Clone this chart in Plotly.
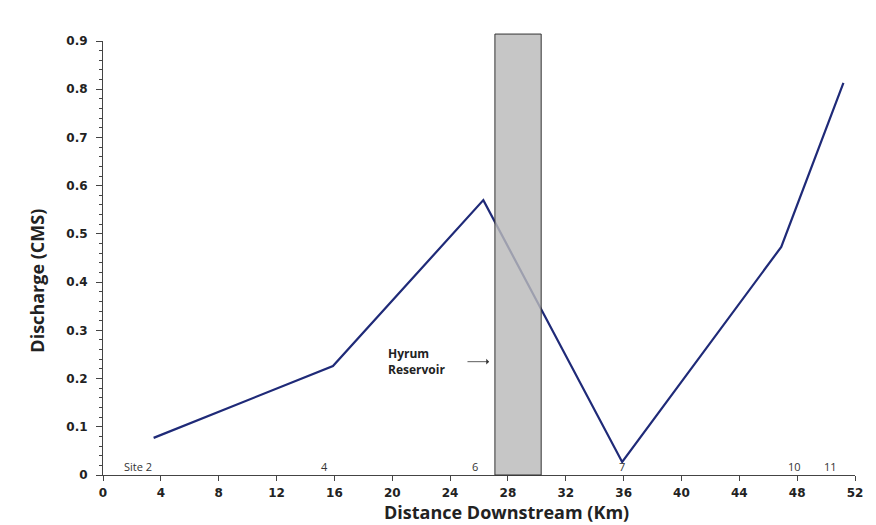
import plotly.graph_objects as go

# Data
sites = ["Site 2", "4", "6", "7", "10", "11"]
distance_km = [3.5, 15.9, 26.3, 35.9, 46.9, 51.2]
discharge_cms = [0.077, 0.226, 0.570, 0.027, 0.473, 0.813]
site_label_x = [2.4, 15.3, 25.7, 35.9, 47.8, 50.3]

reservoir_x = [27.1, 30.3]
x_ticks = list(range(0, 53, 4))
y_ticks = [0, 0.1, 0.2, 0.3, 0.4, 0.5, 0.6, 0.7, 0.8, 0.9]

fig = go.Figure()
fig.add_trace(go.Scatter(
    x=distance_km, y=discharge_cms, mode="lines",
    line=dict(color="#1f2a78", width=2.2), showlegend=False, hoverinfo="x+y"))

# site labels just above the x axis
for s, x in zip(sites, site_label_x):
    fig.add_annotation(x=x, y=0.018, text=s, showarrow=False,
                       font=dict(family="Open Sans", size=11, color="#333"),
                       xanchor="center", yanchor="middle")

# reservoir rectangle
fig.add_shape(type="rect", xref="x", yref="paper",
              x0=reservoir_x[0], x1=reservoir_x[1], y0=0, y1=1.016,
              fillcolor="rgba(185,185,185,0.82)", line=dict(color="#333", width=1),
              layer="above")

fig.add_annotation(x=19.6, y=0.235, text="<b>Hyrum<br>Reservoir</b>", showarrow=False,
                   align="left", xanchor="left", yanchor="middle",
                   font=dict(family="Open Sans", size=12, color="#222"))
fig.add_annotation(x=26.7, y=0.235, ax=25.1, ay=0.235, xref="x", yref="y",
                   axref="x", ayref="y", text="", showarrow=True,
                   arrowhead=1, arrowsize=1.2, arrowwidth=0.8, arrowcolor="#333")

# axis titles
fig.add_annotation(xref="paper", yref="paper", x=0.537, y=-0.085, text="<b>Distance Downstream (Km)</b>",
                   showarrow=False, xanchor="center", yanchor="middle",
                   font=dict(family="Open Sans", size=18, color="#222"))
fig.add_annotation(xref="paper", yref="paper", x=-0.089, y=0.448, text="<b>Discharge (CMS)</b>",
                   showarrow=False, xanchor="center", yanchor="middle", textangle=-90,
                   font=dict(family="Open Sans", size=18, color="#222"))

tickfont = dict(family="DejaVu Sans", size=12, color="#222")
fig.update_xaxes(range=[0, 52], tickvals=x_ticks, ticktext=["<b>%d</b>" % v for v in x_ticks],
                 ticks="outside", ticklen=5,
                 tickcolor="#444", showline=True, linecolor="#444", linewidth=1,
                 showgrid=False, zeroline=False, tickfont=tickfont, ticklabelstandoff=2)
fig.update_yaxes(range=[0, 0.9], tickvals=y_ticks, ticktext=["<b>%g</b>" % v for v in y_ticks],
                 ticks="outside", ticklen=6,
                 tickcolor="#444", showline=True, linecolor="#444", linewidth=1,
                 showgrid=False, zeroline=False, tickfont=tickfont, ticklabelstandoff=6,
                 minor=dict(dtick=0.02, tick0=0, ticks="outside", ticklen=3, tickcolor="#444", showgrid=False))

fig.update_layout(width=876, height=525, plot_bgcolor="white", paper_bgcolor="white",
                  margin=dict(l=103, r=21, t=41, b=50))
fig.write_html("out.html")
